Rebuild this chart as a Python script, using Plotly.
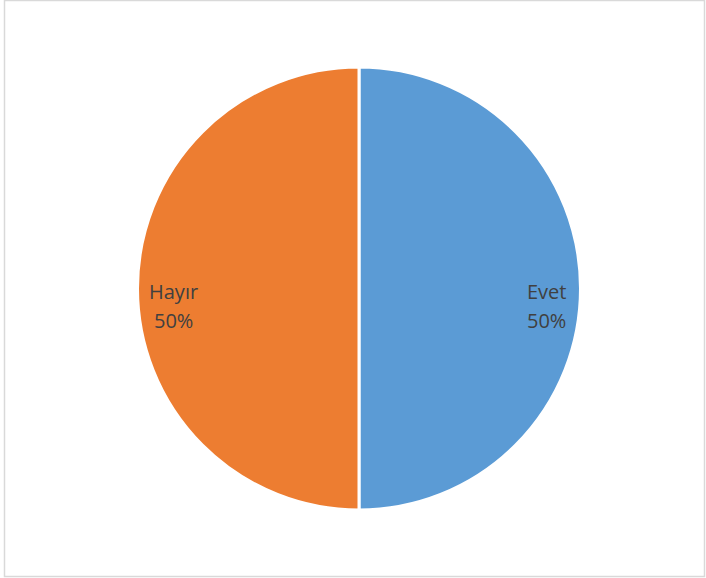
import plotly.graph_objects as go

labels = ["Evet", "Hayır"]
values = [50, 50]
colors = ["#5B9BD5", "#ED7D31"]

W, H = 706, 578
cx, cy, r = 359, 288.5, 221.5

fig = go.Figure(go.Pie(
    labels=labels, values=values, sort=False, direction="clockwise", rotation=0,
    marker=dict(colors=colors, line=dict(color="white", width=3)),
    textinfo="none", hoverinfo="label+percent", showlegend=False,
    domain=dict(x=[(cx - r) / W, (cx + r) / W], y=[(H - cy - r) / H, (H - cy + r) / H]),
))

total = sum(values)
label_x = {"Evet": 546, "Hayır": 173}
annotations = []
for lab, v in zip(labels, values):
    pct = f"{round(100 * v / total)}%"
    for txt, yy in ((lab, 291), (pct, 320)):
        annotations.append(dict(
            x=label_x[lab] / W, y=1 - yy / H, xref="paper", yref="paper",
            text=txt, showarrow=False, xanchor="center", yanchor="middle",
            font=dict(family="Open Sans, Liberation Sans, sans-serif", size=20, color="#404040"),
        ))

fig.update_layout(
    width=W, height=H, margin=dict(l=0, r=0, t=0, b=0),
    paper_bgcolor="white", plot_bgcolor="white",
    annotations=annotations,
    shapes=[dict(type="rect", xref="paper", yref="paper",
                 x0=4.5 / W, x1=704.5 / W, y0=1 - 576.5 / H, y1=1 - 0.5 / H,
                 line=dict(color="#D9D9D9", width=1.5), fillcolor="rgba(0,0,0,0)")],
)

fig.write_html("out.html", config={"displayModeBar": False},
               post_script="document.body.style.margin='0';document.body.style.overflow='hidden';")
